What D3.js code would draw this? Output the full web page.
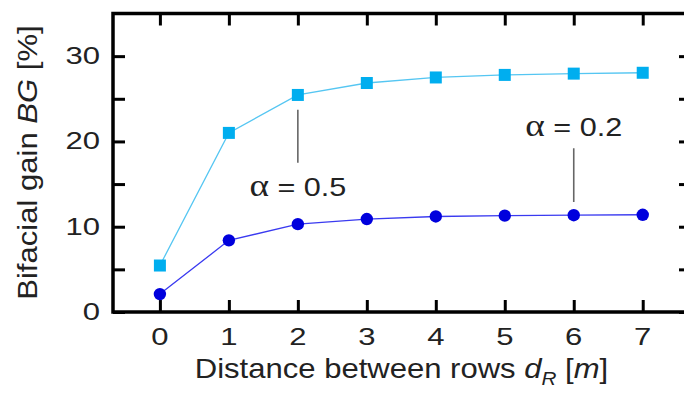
<!DOCTYPE html>
<html>
<head>
<meta charset="utf-8">
<script src="https://cdn.jsdelivr.net/npm/d3@7/dist/d3.min.js"></script>
<style>
  html, body { margin: 0; padding: 0; background: #fff; }
  svg { display: block; }
</style>
</head>
<body>
<svg id="chart" width="684" height="401"></svg>
<script>
// Row spacing in metres
const distances = [0, 1, 2, 3, 4, 5, 6, 7];
// Bifacial gain [%] for albedo 0.5 and 0.2
const gainAlpha05 = [5.45, 21.0, 25.45, 26.85, 27.5, 27.8, 27.95, 28.05];
const gainAlpha02 = [2.1, 8.4, 10.3, 10.9, 11.2, 11.3, 11.35, 11.4];
// Axis ticks
const xTicks = [0, 1, 2, 3, 4, 5, 6, 7];
const yTicks = [0, 10, 20, 30];
const yMinorTicks = [5, 15, 25];
// Series labels with leader lines (x, line from y0 to y1, text baseline at ty)
const annotations = [
  { label: "0.5", x: 2, y0: 23.7, y1: 17.5, ty: 13.6 },
  { label: "0.2", x: 6, y0: 19.2, y1: 12.9, ty: 20.6 }
];

const W = 684, H = 401;
const FONT = "'Liberation Sans', Arial, Helvetica, sans-serif";

const svg = d3.select("#chart");
svg.append("rect").attr("width", W).attr("height", H).attr("fill", "#fff");

const x = d3.scaleLinear().domain([-0.68, 7.7]).range([113, 691]);
const y = d3.scaleLinear().domain([0, 35]).range([312, 13.5]);

const colSq = "#00aeef", colSqLine = "#55c6f2";
const colCi = "#0000dd", colCiLine = "#3a3af0";

function styleAxis(g) {
  g.select(".domain").remove();
  g.selectAll(".tick line").attr("stroke", "#000").attr("stroke-width", 3);
  g.selectAll(".tick text").remove();
}

// Ticks on all four sides, pointing inward
svg.append("g").attr("transform", `translate(0,${y(0)})`)
  .call(d3.axisBottom(x).tickValues(xTicks).tickSizeInner(-12).tickSizeOuter(0).tickFormat(""))
  .call(styleAxis);
svg.append("g").attr("transform", `translate(0,${y(35)})`)
  .call(d3.axisTop(x).tickValues(xTicks).tickSizeInner(-12).tickSizeOuter(0).tickFormat(""))
  .call(styleAxis);
svg.append("g").attr("transform", `translate(${x(-0.68)},0)`)
  .call(d3.axisLeft(y).tickValues(yTicks.concat(yMinorTicks)).tickSizeInner(-12).tickSizeOuter(0).tickFormat(""))
  .call(styleAxis);
svg.append("g").attr("transform", `translate(${x(7.7)},0)`)
  .call(d3.axisRight(y).tickValues(yTicks.concat(yMinorTicks)).tickSizeInner(-12).tickSizeOuter(0).tickFormat(""))
  .call(styleAxis);

// Frame
svg.append("rect")
  .attr("x", x(-0.68)).attr("y", y(35))
  .attr("width", x(7.7) - x(-0.68)).attr("height", y(0) - y(35))
  .attr("fill", "none").attr("stroke", "#000").attr("stroke-width", 3.5);

// Text in a wide-set sans: glyphs are stretched along the baseline
function label(px, py, anchor, size, stretch, rotate) {
  return svg.append("text")
    .attr("transform", `translate(${px},${py})${rotate ? " rotate(-90)" : ""} scale(${stretch},1)`)
    .attr("text-anchor", anchor)
    .attr("font-family", FONT)
    .attr("font-size", size)
    .attr("fill", "#222");
}

// Tick labels
xTicks.forEach(v => label(x(v), 345, "middle", 23, 1.35).text(v));
yTicks.forEach(v => label(100, y(v) + 8, "end", 23, 1.35).text(v));

// Axis titles
const xt = label(401.5, 378, "middle", 27, 1.15);
xt.append("tspan").text("Distance between rows ");
xt.append("tspan").attr("font-style", "italic").text("d");
xt.append("tspan").attr("font-style", "italic").attr("font-size", 18).attr("dy", 7).text("R");
xt.append("tspan").attr("dy", -7).text(" [");
xt.append("tspan").attr("font-style", "italic").text("m");
xt.append("tspan").text("]");

const yt = label(37, 162.5, "middle", 27.5, 1.13, true);
yt.append("tspan").text("Bifacial gain ");
yt.append("tspan").attr("font-style", "italic").text("BG");
yt.append("tspan").text(" [%]");

// Lines
const line = d3.line().x((d, i) => x(distances[i])).y(d => y(d));
svg.append("path").datum(gainAlpha05).attr("d", line)
  .attr("fill", "none").attr("stroke", colSqLine).attr("stroke-width", 1.3);
svg.append("path").datum(gainAlpha02).attr("d", line)
  .attr("fill", "none").attr("stroke", colCiLine).attr("stroke-width", 1.3);

// Markers
const S = 12;
svg.append("g").selectAll("rect").data(gainAlpha05).join("rect")
  .attr("x", (d, i) => x(distances[i]) - S / 2)
  .attr("y", d => y(d) - S / 2)
  .attr("width", S).attr("height", S)
  .attr("fill", colSq);
svg.append("g").selectAll("circle").data(gainAlpha02).join("circle")
  .attr("cx", (d, i) => x(distances[i]))
  .attr("cy", d => y(d))
  .attr("r", 6.2)
  .attr("fill", colCi);

// Series annotations
annotations.forEach(a => {
  svg.append("line")
    .attr("x1", x(a.x)).attr("x2", x(a.x))
    .attr("y1", y(a.y0)).attr("y2", y(a.y1))
    .attr("stroke", "#666").attr("stroke-width", 1.6);
  const t = label(x(a.x), y(a.ty), "middle", 25.5, 1.2);
  t.append("tspan").attr("font-family", "'Liberation Serif', 'Times New Roman', serif")
    .attr("font-size", 31).text("α");
  t.append("tspan").text(" = " + a.label);
});
</script>
</body>
</html>
